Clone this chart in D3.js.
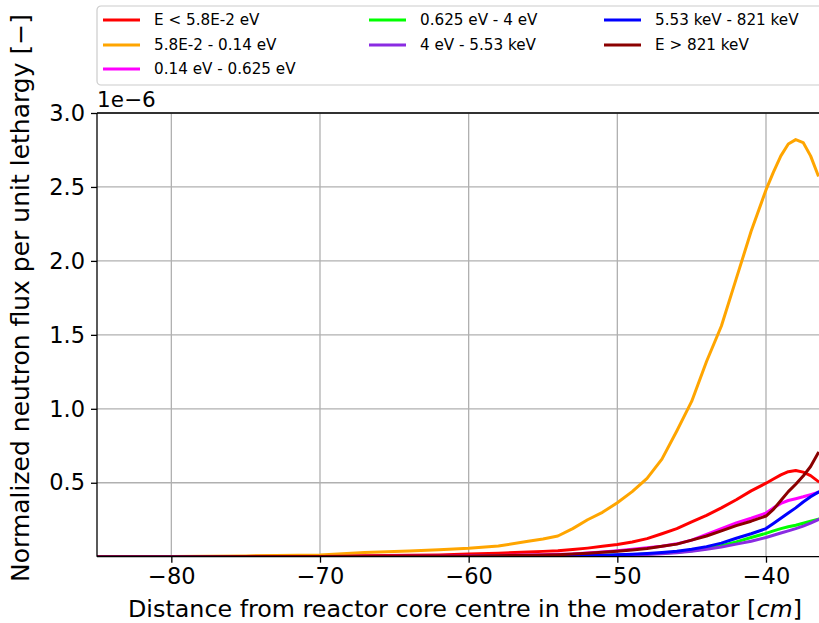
<!DOCTYPE html>
<html lang="en">
<head>
<meta charset="UTF-8">
<title>Neutron flux per lethargy</title>
<style>
  html, body { margin: 0; padding: 0; background: #fff; }
  svg text { font-family: "DejaVu Sans", sans-serif; fill: #000; }
</style>
</head>
<body>
<div id="chart"></div>
<script src="https://cdn.jsdelivr.net/npm/d3@7"></script>
<script>
"use strict";

// distance from core centre [cm]
var distance = [-85, -80, -75, -70, -67, -64, -62, -60, -58, -56, -55, -54, -53, -52, -51, -50,
                -49, -48, -47, -46, -45, -44, -43, -42, -41, -40, -39.5, -39, -38.5, -38, -37.5, -37, -36.5];

// flux per unit lethargy, units of 1e-6
var fluxThermalLow = [0, 0.001, 0.002, 0.004, 0.006, 0.009, 0.012, 0.018, 0.023, 0.032, 0.036, 0.04, 0.048, 0.058, 0.07, 0.082,
                      0.1, 0.122, 0.155, 0.19, 0.235, 0.28, 0.33, 0.385, 0.445, 0.497, 0.525, 0.553, 0.575, 0.583, 0.572, 0.548, 0.51];
var fluxThermalPeak = [0, 0.002, 0.005, 0.012, 0.028, 0.038, 0.047, 0.057, 0.072, 0.105, 0.12, 0.14, 0.19, 0.25, 0.30, 0.365,
                       0.44, 0.53, 0.66, 0.85, 1.05, 1.32, 1.56, 1.88, 2.20, 2.48, 2.60, 2.71, 2.79, 2.82, 2.80, 2.71, 2.58];
var fluxEpiLow = [0, 0, 0.001, 0.002, 0.003, 0.004, 0.005, 0.006, 0.008, 0.011, 0.013, 0.016, 0.019, 0.025, 0.032, 0.04,
                  0.05, 0.06, 0.07, 0.087, 0.112, 0.15, 0.19, 0.228, 0.26, 0.295, 0.33, 0.36, 0.38, 0.392, 0.405, 0.42, 0.435];
var fluxResLow = [0, 0, 0, 0.001, 0.001, 0.002, 0.002, 0.002, 0.003, 0.004, 0.004, 0.005, 0.006, 0.007, 0.009, 0.011,
                  0.014, 0.018, 0.023, 0.03, 0.04, 0.055, 0.075, 0.10, 0.13, 0.158, 0.175, 0.19, 0.202, 0.213, 0.226, 0.24, 0.253];
var fluxResHigh = [0, 0, 0, 0.001, 0.001, 0.001, 0.002, 0.002, 0.002, 0.003, 0.003, 0.004, 0.005, 0.006, 0.007, 0.009,
                   0.012, 0.015, 0.02, 0.027, 0.036, 0.05, 0.066, 0.085, 0.105, 0.13, 0.145, 0.16, 0.175, 0.19, 0.207, 0.227, 0.25];
var fluxFastLow = [0, 0, 0, 0.001, 0.001, 0.002, 0.002, 0.002, 0.003, 0.004, 0.005, 0.006, 0.007, 0.008, 0.01, 0.013,
                   0.016, 0.021, 0.028, 0.037, 0.05, 0.068, 0.092, 0.125, 0.155, 0.19, 0.225, 0.26, 0.295, 0.33, 0.37, 0.405, 0.435];
var fluxFastHigh = [0, 0, 0.001, 0.002, 0.003, 0.004, 0.004, 0.005, 0.007, 0.01, 0.012, 0.014, 0.018, 0.024, 0.03, 0.037,
                    0.045, 0.055, 0.07, 0.085, 0.112, 0.14, 0.175, 0.21, 0.24, 0.275, 0.32, 0.38, 0.44, 0.49, 0.545, 0.61, 0.70];

var seriesLabels = ["E < 5.8E-2 eV", "5.8E-2 - 0.14 eV", "0.14 eV - 0.625 eV", "0.625 eV - 4 eV",
                    "4 eV - 5.53 keV", "5.53 keV - 821 keV", "E > 821 keV"];
var seriesColors = ["#ff0000", "#ffa500", "#ff00ff", "#00ff00", "#8a2be2", "#0000ff", "#8b0000"];
var seriesValues = [fluxThermalLow, fluxThermalPeak, fluxEpiLow, fluxResLow, fluxResHigh, fluxFastLow, fluxFastHigh];

var xTicks = [-80, -70, -60, -50, -40];
var yTicks = [0.5, 1.0, 1.5, 2.0, 2.5, 3.0];

(function() {

    var width = 819,
        height = 623;

    var plot = { left: 97, top: 113, right: 821, bottom: 556.7 };

    var svg = d3.select("#chart")
        .append("svg")
        .attr("width", width)
        .attr("height", height);

    var x = d3.scaleLinear().domain([-85, -36.3]).range([plot.left, plot.right]);
    var y = d3.scaleLinear().domain([0, 3]).range([plot.bottom, plot.top]);

    // grid
    var grid = svg.append("g").attr("stroke", "#b0b0b0").attr("stroke-width", 1.3);
    grid.selectAll("line.gx").data(xTicks).enter().append("line")
        .attr("x1", function(d) { return x(d); }).attr("x2", function(d) { return x(d); })
        .attr("y1", plot.top).attr("y2", plot.bottom);
    grid.selectAll("line.gy").data(yTicks).enter().append("line")
        .attr("y1", function(d) { return y(d); }).attr("y2", function(d) { return y(d); })
        .attr("x1", plot.left).attr("x2", plot.right);

    // curves
    svg.append("defs").append("clipPath").attr("id", "clip")
        .append("rect")
        .attr("x", plot.left).attr("y", plot.top - 3)
        .attr("width", plot.right - plot.left).attr("height", plot.bottom - plot.top + 3);

    var line = d3.line()
        .x(function(d, i) { return x(distance[i]); })
        .y(function(d) { return y(d); });

    svg.append("g").attr("clip-path", "url(#clip)")
        .selectAll("path")
        .data(seriesValues)
        .enter()
        .append("path")
        .attr("d", line)
        .attr("fill", "none")
        .attr("stroke", function(d, i) { return seriesColors[i]; })
        .attr("stroke-width", 3)
        .attr("stroke-linejoin", "round")
        .attr("stroke-linecap", "square");

    // axes
    var xAxis = d3.axisBottom(x).tickValues(xTicks).tickSize(6).tickPadding(5)
        .tickFormat(function(d) { return d3.format("d")(d).replace("-", "\u2212"); });
    var gx = svg.append("g").attr("transform", "translate(0," + plot.bottom + ")").call(xAxis);

    var yAxis = d3.axisLeft(y).tickValues(yTicks).tickSize(6).tickPadding(6)
        .tickFormat(d3.format(".1f"));
    var gy = svg.append("g").attr("transform", "translate(" + plot.left + ",0)").call(yAxis);

    [gx, gy].forEach(function(g) {
        g.select(".domain").remove();
        g.selectAll(".tick line").attr("stroke", "#000").attr("stroke-width", 1.3);
        g.selectAll(".tick text").style("font-size", "22.5px").attr("fill", "#000");
    });

    // spines
    var spines = svg.append("g").attr("stroke", "#000").attr("stroke-width", 1.3);
    spines.append("line").attr("x1", plot.left).attr("x2", plot.left).attr("y1", plot.top).attr("y2", plot.bottom);
    spines.append("line").attr("x1", plot.left).attr("x2", plot.right).attr("y1", plot.bottom).attr("y2", plot.bottom);
    spines.append("line").attr("x1", plot.left).attr("x2", plot.right).attr("y1", plot.top).attr("y2", plot.top);

    // offset text
    svg.append("text")
        .attr("x", plot.left)
        .attr("y", plot.top - 6)
        .style("font-size", "21.5px")
        .text("1e\u22126");

    // axis labels
    var xl = svg.append("text")
        .attr("x", 465)
        .attr("y", 617)
        .attr("text-anchor", "middle")
        .style("font-size", "23.8px");
    xl.append("tspan").text("Distance from reactor core centre in the moderator [");
    xl.append("tspan").style("font-style", "italic").text("cm");
    xl.append("tspan").text("]");

    svg.append("text")
        .attr("transform", "translate(29," + 298 + ") rotate(-90)")
        .attr("text-anchor", "middle")
        .style("font-size", "25px")
        .text("Normalized neutron flux per unit lethargy [\u2212]");

    // legend
    var legend = svg.append("g");
    legend.append("rect")
        .attr("x", 97).attr("y", 6)
        .attr("width", 740).attr("height", 79)
        .attr("rx", 4)
        .attr("fill", "#fff").attr("fill-opacity", 0.8)
        .attr("stroke", "#cccccc").attr("stroke-width", 1.2);

    var colX = [103, 369, 604];
    var rowY = [20, 45, 69];
    var slot = [[0, 0], [0, 1], [0, 2], [1, 0], [1, 1], [2, 0], [2, 1]];

    var item = legend.selectAll("g.item")
        .data(seriesLabels)
        .enter()
        .append("g")
        .attr("transform", function(d, i) {
            return "translate(" + colX[slot[i][0]] + "," + rowY[slot[i][1]] + ")";
        });
    item.append("line")
        .attr("x1", 0).attr("x2", 37).attr("y1", 0).attr("y2", 0)
        .attr("stroke", function(d, i) { return seriesColors[i]; })
        .attr("stroke-width", 3);
    item.append("text")
        .attr("x", 51).attr("y", 0).attr("dy", "0.35em")
        .style("font-size", "15.2px")
        .text(function(d) { return d; });

})();
</script>
</body>
</html>
